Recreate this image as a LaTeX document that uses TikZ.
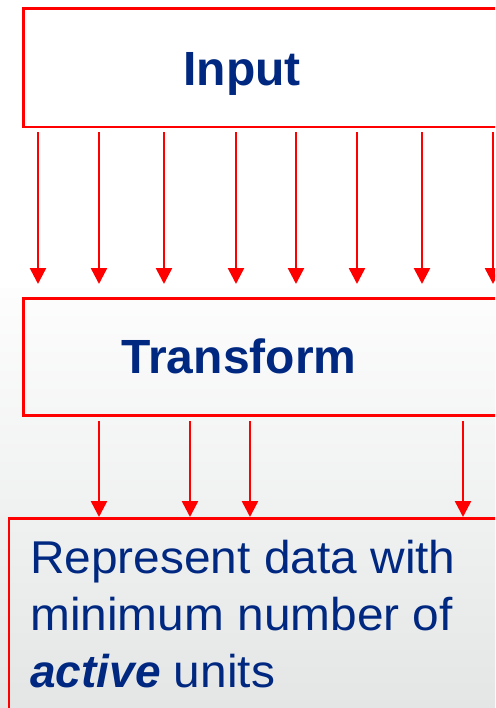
\documentclass[tikz,border=0pt]{standalone}
\usepackage{fontspec}
\setmainfont{Liberation Sans}
\newfontfamily\bodyfont[FakeStretch=1.04]{Liberation Sans}
\usetikzlibrary{arrows.meta}
\definecolor{txtblue}{RGB}{0,40,128}
\definecolor{bgbot}{RGB}{228,230,230}
\definecolor{bgtop}{RGB}{253,253,253}
\tikzset{
  box/.style={draw=red, line width=2.5pt, rectangle, inner sep=0pt},
  flow/.style={draw=red, line width=2.5pt, -{Triangle[width=16pt,length=16pt]}},
  title/.style={text=txtblue, font=\fontsize{48}{56}\selectfont\bfseries, anchor=base, inner sep=0pt},
  body/.style={text=txtblue, font=\bodyfont\fontsize{46}{57}\selectfont, anchor=base west, inner sep=0pt}
}
\begin{document}
\begin{tikzpicture}[x=1pt,y=-1pt]
\useasboundingbox (0,0) rectangle (495,708);
\clip (0,0) rectangle (495,708);
\fill[white] (0,0) rectangle (495,288);
\shade[top color=bgtop, bottom color=bgbot] (0,288) rectangle (495,708);
% boxes
\node[box, minimum width=490pt, minimum height=118.5pt, anchor=north west] (input) at (22,7.5) {};
\node[box, minimum width=490pt, minimum height=117pt, anchor=north west] (transform) at (22,297) {};
\node[box, minimum width=505pt, minimum height=220pt, anchor=north west] (result) at (7.5,517) {};
% labels
\node[title] (inputlbl) at (242,86) {Input};
\node[title] (translbl) at (239,373) {Transform};
\node[body] (l1) at (30,573) {Represent data with};
\node[body] (l2) at (30,630) {minimum number of};
\node[body] (l3) at (30,687) {{\fontspec{Liberation Sans}\bfseries\itshape active} units};
% arrows input -> transform
\foreach \x [count=\i] in {38,99,164,236,296,357,422,493} {
  \coordinate (a\i) at (\x,132);
  \coordinate (b\i) at (\x,284);
  \draw[flow] (a\i) -- (b\i);
}
% arrows transform -> result
\foreach \x [count=\i] in {99,190,250,463} {
  \coordinate (c\i) at (\x,421);
  \coordinate (d\i) at (\x,517);
  \draw[flow] (c\i) -- (d\i);
}
\end{tikzpicture}
\end{document}
